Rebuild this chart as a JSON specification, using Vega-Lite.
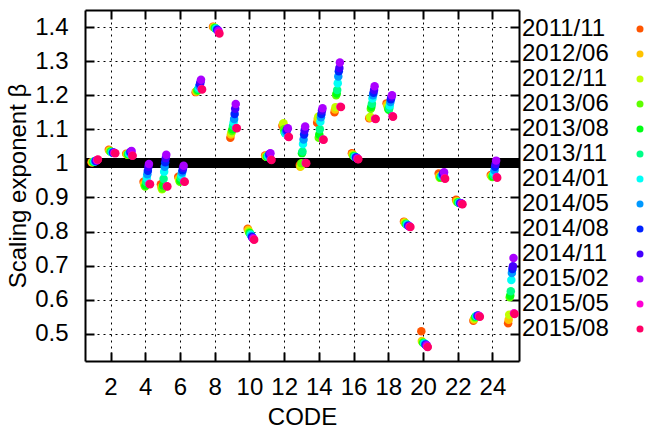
{
  "$schema": "https://vega.github.io/schema/vega-lite/v6.json",
  "width": 434,
  "height": 351,
  "autosize": "none",
  "padding": {"left": 85, "top": 10, "right": 127, "bottom": 73},
  "config": {
    "view": {"stroke": null},
    "font": "Liberation Sans",
    "axis": {
      "labelFontSize": 24, "titleFontSize": 24, "titleFontWeight": "normal",
      "labelColor": "black", "titleColor": "black",
      "domainColor": "black", "domainWidth": 2,
      "tickColor": "black", "tickWidth": 2, "tickSize": -9,
      "gridColor": "black", "gridDash": [2, 4], "gridOpacity": 1, "gridWidth": 1
    },
    "legend": {
      "labelFontSize": 24, "labelColor": "black", "labelFont": "Liberation Sans"
    }
  },
  "datasets": {
    "beta": [
      {"CODE":1,"date":"2011/11","beta":1.003},{"CODE":1,"date":"2012/06","beta":1.003},{"CODE":1,"date":"2012/11","beta":1.004},{"CODE":1,"date":"2013/06","beta":1.004},{"CODE":1,"date":"2013/08","beta":1.005},{"CODE":1,"date":"2013/11","beta":1.005},{"CODE":1,"date":"2014/01","beta":1.006},{"CODE":1,"date":"2014/05","beta":1.006},{"CODE":1,"date":"2014/08","beta":1.007},{"CODE":1,"date":"2014/11","beta":1.008},{"CODE":1,"date":"2015/02","beta":1.009},{"CODE":1,"date":"2015/05","beta":1.010},{"CODE":1,"date":"2015/08","beta":1.011},
      {"CODE":2,"date":"2011/11","beta":1.040},{"CODE":2,"date":"2012/06","beta":1.038},{"CODE":2,"date":"2012/11","beta":1.036},{"CODE":2,"date":"2013/06","beta":1.035},{"CODE":2,"date":"2013/08","beta":1.034},{"CODE":2,"date":"2013/11","beta":1.033},{"CODE":2,"date":"2014/01","beta":1.032},{"CODE":2,"date":"2014/05","beta":1.032},{"CODE":2,"date":"2014/08","beta":1.031},{"CODE":2,"date":"2014/11","beta":1.031},{"CODE":2,"date":"2015/02","beta":1.031},{"CODE":2,"date":"2015/05","beta":1.030},{"CODE":2,"date":"2015/08","beta":1.030},
      {"CODE":3,"date":"2011/11","beta":1.028},{"CODE":3,"date":"2012/06","beta":1.027},{"CODE":3,"date":"2012/11","beta":1.026},{"CODE":3,"date":"2013/06","beta":1.026},{"CODE":3,"date":"2013/08","beta":1.027},{"CODE":3,"date":"2013/11","beta":1.028},{"CODE":3,"date":"2014/01","beta":1.029},{"CODE":3,"date":"2014/05","beta":1.031},{"CODE":3,"date":"2014/08","beta":1.033},{"CODE":3,"date":"2014/11","beta":1.035},{"CODE":3,"date":"2015/02","beta":1.036},{"CODE":3,"date":"2015/05","beta":1.023},{"CODE":3,"date":"2015/08","beta":1.022},
      {"CODE":4,"date":"2011/11","beta":0.946},{"CODE":4,"date":"2012/06","beta":0.940},{"CODE":4,"date":"2012/11","beta":0.935},{"CODE":4,"date":"2013/06","beta":0.932},{"CODE":4,"date":"2013/08","beta":0.936},{"CODE":4,"date":"2013/11","beta":0.945},{"CODE":4,"date":"2014/01","beta":0.957},{"CODE":4,"date":"2014/05","beta":0.968},{"CODE":4,"date":"2014/08","beta":0.978},{"CODE":4,"date":"2014/11","beta":0.990},{"CODE":4,"date":"2015/02","beta":0.998},{"CODE":4,"date":"2015/05","beta":0.940},{"CODE":4,"date":"2015/08","beta":0.939},
      {"CODE":5,"date":"2011/11","beta":0.939},{"CODE":5,"date":"2012/06","beta":0.930},{"CODE":5,"date":"2012/11","beta":0.924},{"CODE":5,"date":"2013/06","beta":0.926},{"CODE":5,"date":"2013/08","beta":0.935},{"CODE":5,"date":"2013/11","beta":0.955},{"CODE":5,"date":"2014/01","beta":0.975},{"CODE":5,"date":"2014/05","beta":0.990},{"CODE":5,"date":"2014/08","beta":1.003},{"CODE":5,"date":"2014/11","beta":1.015},{"CODE":5,"date":"2015/02","beta":1.025},{"CODE":5,"date":"2015/05","beta":0.933},{"CODE":5,"date":"2015/08","beta":0.932},
      {"CODE":6,"date":"2011/11","beta":0.961},{"CODE":6,"date":"2012/06","beta":0.955},{"CODE":6,"date":"2012/11","beta":0.950},{"CODE":6,"date":"2013/06","beta":0.946},{"CODE":6,"date":"2013/08","beta":0.950},{"CODE":6,"date":"2013/11","beta":0.958},{"CODE":6,"date":"2014/01","beta":0.966},{"CODE":6,"date":"2014/05","beta":0.973},{"CODE":6,"date":"2014/08","beta":0.980},{"CODE":6,"date":"2014/11","beta":0.987},{"CODE":6,"date":"2015/02","beta":0.993},{"CODE":6,"date":"2015/05","beta":0.947},{"CODE":6,"date":"2015/08","beta":0.946},
      {"CODE":7,"date":"2011/11","beta":1.209},{"CODE":7,"date":"2012/06","beta":1.211},{"CODE":7,"date":"2012/11","beta":1.212},{"CODE":7,"date":"2013/06","beta":1.213},{"CODE":7,"date":"2013/08","beta":1.215},{"CODE":7,"date":"2013/11","beta":1.218},{"CODE":7,"date":"2014/01","beta":1.222},{"CODE":7,"date":"2014/05","beta":1.227},{"CODE":7,"date":"2014/08","beta":1.232},{"CODE":7,"date":"2014/11","beta":1.238},{"CODE":7,"date":"2015/02","beta":1.245},{"CODE":7,"date":"2015/05","beta":1.218},{"CODE":7,"date":"2015/08","beta":1.217},
      {"CODE":8,"date":"2011/11","beta":1.401},{"CODE":8,"date":"2012/06","beta":1.400},{"CODE":8,"date":"2012/11","beta":1.399},{"CODE":8,"date":"2013/06","beta":1.398},{"CODE":8,"date":"2013/08","beta":1.397},{"CODE":8,"date":"2013/11","beta":1.396},{"CODE":8,"date":"2014/01","beta":1.395},{"CODE":8,"date":"2014/05","beta":1.393},{"CODE":8,"date":"2014/08","beta":1.392},{"CODE":8,"date":"2014/11","beta":1.390},{"CODE":8,"date":"2015/02","beta":1.389},{"CODE":8,"date":"2015/05","beta":1.383},{"CODE":8,"date":"2015/08","beta":1.381},
      {"CODE":9,"date":"2011/11","beta":1.075},{"CODE":9,"date":"2012/06","beta":1.085},{"CODE":9,"date":"2012/11","beta":1.090},{"CODE":9,"date":"2013/06","beta":1.095},{"CODE":9,"date":"2013/08","beta":1.100},{"CODE":9,"date":"2013/11","beta":1.110},{"CODE":9,"date":"2014/01","beta":1.120},{"CODE":9,"date":"2014/05","beta":1.130},{"CODE":9,"date":"2014/08","beta":1.145},{"CODE":9,"date":"2014/11","beta":1.160},{"CODE":9,"date":"2015/02","beta":1.174},{"CODE":9,"date":"2015/05","beta":1.104},{"CODE":9,"date":"2015/08","beta":1.103},
      {"CODE":10,"date":"2011/11","beta":0.808},{"CODE":10,"date":"2012/06","beta":0.805},{"CODE":10,"date":"2012/11","beta":0.800},{"CODE":10,"date":"2013/06","beta":0.797},{"CODE":10,"date":"2013/08","beta":0.795},{"CODE":10,"date":"2013/11","beta":0.793},{"CODE":10,"date":"2014/01","beta":0.790},{"CODE":10,"date":"2014/05","beta":0.787},{"CODE":10,"date":"2014/08","beta":0.784},{"CODE":10,"date":"2014/11","beta":0.782},{"CODE":10,"date":"2015/02","beta":0.780},{"CODE":10,"date":"2015/05","beta":0.777},{"CODE":10,"date":"2015/08","beta":0.776},
      {"CODE":11,"date":"2011/11","beta":1.023},{"CODE":11,"date":"2012/06","beta":1.021},{"CODE":11,"date":"2012/11","beta":1.020},{"CODE":11,"date":"2013/06","beta":1.019},{"CODE":11,"date":"2013/08","beta":1.019},{"CODE":11,"date":"2013/11","beta":1.020},{"CODE":11,"date":"2014/01","beta":1.022},{"CODE":11,"date":"2014/05","beta":1.024},{"CODE":11,"date":"2014/08","beta":1.026},{"CODE":11,"date":"2014/11","beta":1.028},{"CODE":11,"date":"2015/02","beta":1.030},{"CODE":11,"date":"2015/05","beta":1.011},{"CODE":11,"date":"2015/08","beta":1.010},
      {"CODE":12,"date":"2011/11","beta":1.110},{"CODE":12,"date":"2012/06","beta":1.115},{"CODE":12,"date":"2012/11","beta":1.118},{"CODE":12,"date":"2013/06","beta":1.100},{"CODE":12,"date":"2013/08","beta":1.092},{"CODE":12,"date":"2013/11","beta":1.088},{"CODE":12,"date":"2014/01","beta":1.088},{"CODE":12,"date":"2014/05","beta":1.092},{"CODE":12,"date":"2014/08","beta":1.097},{"CODE":12,"date":"2014/11","beta":1.100},{"CODE":12,"date":"2015/02","beta":1.103},{"CODE":12,"date":"2015/05","beta":1.078},{"CODE":12,"date":"2015/08","beta":1.077},
      {"CODE":13,"date":"2011/11","beta":0.995},{"CODE":13,"date":"2012/06","beta":0.990},{"CODE":13,"date":"2012/11","beta":0.992},{"CODE":13,"date":"2013/06","beta":1.000},{"CODE":13,"date":"2013/08","beta":1.030},{"CODE":13,"date":"2013/11","beta":1.035},{"CODE":13,"date":"2014/01","beta":1.057},{"CODE":13,"date":"2014/05","beta":1.070},{"CODE":13,"date":"2014/08","beta":1.085},{"CODE":13,"date":"2014/11","beta":1.097},{"CODE":13,"date":"2015/02","beta":1.108},{"CODE":13,"date":"2015/05","beta":1.001},{"CODE":13,"date":"2015/08","beta":1.000},
      {"CODE":14,"date":"2011/11","beta":1.119},{"CODE":14,"date":"2012/06","beta":1.130},{"CODE":14,"date":"2012/11","beta":1.137},{"CODE":14,"date":"2013/06","beta":1.075},{"CODE":14,"date":"2013/08","beta":1.085},{"CODE":14,"date":"2013/11","beta":1.100},{"CODE":14,"date":"2014/01","beta":1.122},{"CODE":14,"date":"2014/05","beta":1.135},{"CODE":14,"date":"2014/08","beta":1.145},{"CODE":14,"date":"2014/11","beta":1.155},{"CODE":14,"date":"2015/02","beta":1.162},{"CODE":14,"date":"2015/05","beta":1.070},{"CODE":14,"date":"2015/08","beta":1.069},
      {"CODE":15,"date":"2011/11","beta":1.150},{"CODE":15,"date":"2012/06","beta":1.158},{"CODE":15,"date":"2012/11","beta":1.165},{"CODE":15,"date":"2013/06","beta":1.200},{"CODE":15,"date":"2013/08","beta":1.205},{"CODE":15,"date":"2013/11","beta":1.215},{"CODE":15,"date":"2014/01","beta":1.235},{"CODE":15,"date":"2014/05","beta":1.255},{"CODE":15,"date":"2014/08","beta":1.270},{"CODE":15,"date":"2014/11","beta":1.280},{"CODE":15,"date":"2015/02","beta":1.296},{"CODE":15,"date":"2015/05","beta":1.166},{"CODE":15,"date":"2015/08","beta":1.165},
      {"CODE":16,"date":"2011/11","beta":1.030},{"CODE":16,"date":"2012/06","beta":1.027},{"CODE":16,"date":"2012/11","beta":1.024},{"CODE":16,"date":"2013/06","beta":1.022},{"CODE":16,"date":"2013/08","beta":1.021},{"CODE":16,"date":"2013/11","beta":1.020},{"CODE":16,"date":"2014/01","beta":1.019},{"CODE":16,"date":"2014/05","beta":1.018},{"CODE":16,"date":"2014/08","beta":1.017},{"CODE":16,"date":"2014/11","beta":1.016},{"CODE":16,"date":"2015/02","beta":1.015},{"CODE":16,"date":"2015/05","beta":1.013},{"CODE":16,"date":"2015/08","beta":1.012},
      {"CODE":17,"date":"2011/11","beta":1.132},{"CODE":17,"date":"2012/06","beta":1.134},{"CODE":17,"date":"2012/11","beta":1.137},{"CODE":17,"date":"2013/06","beta":1.160},{"CODE":17,"date":"2013/08","beta":1.166},{"CODE":17,"date":"2013/11","beta":1.175},{"CODE":17,"date":"2014/01","beta":1.190},{"CODE":17,"date":"2014/05","beta":1.200},{"CODE":17,"date":"2014/08","beta":1.207},{"CODE":17,"date":"2014/11","beta":1.215},{"CODE":17,"date":"2015/02","beta":1.226},{"CODE":17,"date":"2015/05","beta":1.131},{"CODE":17,"date":"2015/08","beta":1.130},
      {"CODE":18,"date":"2011/11","beta":1.176},{"CODE":18,"date":"2012/06","beta":1.172},{"CODE":18,"date":"2012/11","beta":1.166},{"CODE":18,"date":"2013/06","beta":1.160},{"CODE":18,"date":"2013/08","beta":1.157},{"CODE":18,"date":"2013/11","beta":1.162},{"CODE":18,"date":"2014/01","beta":1.170},{"CODE":18,"date":"2014/05","beta":1.180},{"CODE":18,"date":"2014/08","beta":1.188},{"CODE":18,"date":"2014/11","beta":1.195},{"CODE":18,"date":"2015/02","beta":1.200},{"CODE":18,"date":"2015/05","beta":1.138},{"CODE":18,"date":"2015/08","beta":1.137},
      {"CODE":19,"date":"2011/11","beta":0.829},{"CODE":19,"date":"2012/06","beta":0.827},{"CODE":19,"date":"2012/11","beta":0.825},{"CODE":19,"date":"2013/06","beta":0.823},{"CODE":19,"date":"2013/08","beta":0.822},{"CODE":19,"date":"2013/11","beta":0.821},{"CODE":19,"date":"2014/01","beta":0.820},{"CODE":19,"date":"2014/05","beta":0.818},{"CODE":19,"date":"2014/08","beta":0.817},{"CODE":19,"date":"2014/11","beta":0.816},{"CODE":19,"date":"2015/02","beta":0.815},{"CODE":19,"date":"2015/05","beta":0.814},{"CODE":19,"date":"2015/08","beta":0.813},
      {"CODE":20,"date":"2011/11","beta":0.507},{"CODE":20,"date":"2012/06","beta":0.479},{"CODE":20,"date":"2012/11","beta":0.476},{"CODE":20,"date":"2013/06","beta":0.474},{"CODE":20,"date":"2013/08","beta":0.473},{"CODE":20,"date":"2013/11","beta":0.472},{"CODE":20,"date":"2014/01","beta":0.471},{"CODE":20,"date":"2014/05","beta":0.470},{"CODE":20,"date":"2014/08","beta":0.468},{"CODE":20,"date":"2014/11","beta":0.467},{"CODE":20,"date":"2015/02","beta":0.466},{"CODE":20,"date":"2015/05","beta":0.462},{"CODE":20,"date":"2015/08","beta":0.461},
      {"CODE":21,"date":"2011/11","beta":0.970},{"CODE":21,"date":"2012/06","beta":0.962},{"CODE":21,"date":"2012/11","beta":0.958},{"CODE":21,"date":"2013/06","beta":0.958},{"CODE":21,"date":"2013/08","beta":0.960},{"CODE":21,"date":"2013/11","beta":0.962},{"CODE":21,"date":"2014/01","beta":0.964},{"CODE":21,"date":"2014/05","beta":0.966},{"CODE":21,"date":"2014/08","beta":0.968},{"CODE":21,"date":"2014/11","beta":0.971},{"CODE":21,"date":"2015/02","beta":0.974},{"CODE":21,"date":"2015/05","beta":0.956},{"CODE":21,"date":"2015/08","beta":0.955},
      {"CODE":22,"date":"2011/11","beta":0.893},{"CODE":22,"date":"2012/06","beta":0.889},{"CODE":22,"date":"2012/11","beta":0.887},{"CODE":22,"date":"2013/06","beta":0.886},{"CODE":22,"date":"2013/08","beta":0.885},{"CODE":22,"date":"2013/11","beta":0.885},{"CODE":22,"date":"2014/01","beta":0.884},{"CODE":22,"date":"2014/05","beta":0.884},{"CODE":22,"date":"2014/08","beta":0.883},{"CODE":22,"date":"2014/11","beta":0.883},{"CODE":22,"date":"2015/02","beta":0.882},{"CODE":22,"date":"2015/05","beta":0.881},{"CODE":22,"date":"2015/08","beta":0.880},
      {"CODE":23,"date":"2011/11","beta":0.538},{"CODE":23,"date":"2012/06","beta":0.542},{"CODE":23,"date":"2012/11","beta":0.545},{"CODE":23,"date":"2013/06","beta":0.548},{"CODE":23,"date":"2013/08","beta":0.550},{"CODE":23,"date":"2013/11","beta":0.551},{"CODE":23,"date":"2014/01","beta":0.552},{"CODE":23,"date":"2014/05","beta":0.553},{"CODE":23,"date":"2014/08","beta":0.553},{"CODE":23,"date":"2014/11","beta":0.553},{"CODE":23,"date":"2015/02","beta":0.553},{"CODE":23,"date":"2015/05","beta":0.551},{"CODE":23,"date":"2015/08","beta":0.550},
      {"CODE":24,"date":"2011/11","beta":0.966},{"CODE":24,"date":"2012/06","beta":0.963},{"CODE":24,"date":"2012/11","beta":0.961},{"CODE":24,"date":"2013/06","beta":0.960},{"CODE":24,"date":"2013/08","beta":0.962},{"CODE":24,"date":"2013/11","beta":0.966},{"CODE":24,"date":"2014/01","beta":0.972},{"CODE":24,"date":"2014/05","beta":0.980},{"CODE":24,"date":"2014/08","beta":0.990},{"CODE":24,"date":"2014/11","beta":0.998},{"CODE":24,"date":"2015/02","beta":1.008},{"CODE":24,"date":"2015/05","beta":0.960},{"CODE":24,"date":"2015/08","beta":0.958},
      {"CODE":25,"date":"2011/11","beta":0.531},{"CODE":25,"date":"2012/06","beta":0.541},{"CODE":25,"date":"2012/11","beta":0.556},{"CODE":25,"date":"2013/06","beta":0.607},{"CODE":25,"date":"2013/08","beta":0.612},{"CODE":25,"date":"2013/11","beta":0.625},{"CODE":25,"date":"2014/01","beta":0.658},{"CODE":25,"date":"2014/05","beta":0.678},{"CODE":25,"date":"2014/08","beta":0.690},{"CODE":25,"date":"2014/11","beta":0.698},{"CODE":25,"date":"2015/02","beta":0.722},{"CODE":25,"date":"2015/05","beta":0.560},{"CODE":25,"date":"2015/08","beta":0.558}
    ]
  },
  "data": {"name": "beta"},
  "resolve": {"axis": {"x": "independent", "y": "independent"}},
  "layer": [
    {
      "mark": {"type": "rule", "color": "black", "strokeWidth": 9},
      "encoding": {
        "y": {"datum": 1, "type": "quantitative", "scale": {"domain": [0.42, 1.45], "nice": false, "zero": false}, "axis": null}
      }
    },
    {
      "mark": {"type": "circle", "size": 72, "opacity": 1},
      "encoding": {
        "x": {
          "field": "CODE", "type": "ordinal",
          "scale": {"domain": [1,2,3,4,5,6,7,8,9,10,11,12,13,14,15,16,17,18,19,20,21,22,23,24,25], "paddingInner": 0, "paddingOuter": 0},
          "axis": {"orient": "bottom", "values": [2,4,6,8,10,12,14,16,18,20,22,24], "grid": true, "bandPosition": 0.5, "labelAngle": 0, "labelPadding": 23, "title": "CODE", "titlePadding": 6, "labelFlush": false}
        },
        "xOffset": {"field": "date", "type": "nominal", "scale": {"type": "point", "range": [6.2, 13.2]}},
        "y": {
          "field": "beta", "type": "quantitative",
          "scale": {"domain": [0.42, 1.45], "nice": false, "zero": false},
          "axis": {"orient": "left", "values": [0.5,0.6,0.7,0.8,0.9,1,1.1,1.2,1.3,1.4], "format": ".1~f", "grid": true, "labelPadding": 26, "title": "Scaling exponent β", "titlePadding": 4, "labelFlush": false}
        },
        "color": {
          "field": "date", "type": "nominal",
          "scale": {
            "domain": ["2011/11","2012/06","2012/11","2013/06","2013/08","2013/11","2014/01","2014/05","2014/08","2014/11","2015/02","2015/05","2015/08"],
            "range": ["#ff5500","#ffc300","#c3ff00","#5eff00","#00ff15","#00ff88","#00fff7","#0099ff","#0022ff","#4400ff","#aa00ff","#ff00d5","#ff0066"]
          },
          "legend": {
            "title": null, "orient": "none", "legendX": 431, "legendY": 7,
            "symbolType": "circle", "symbolSize": 49, "symbolStrokeWidth": 0, "symbolOpacity": 1,
            "symbolOffset": 112, "labelOffset": -130, "rowPadding": 1, "padding": 0, "labelLimit": 200
          }
        }
      }
    },
    {
      "mark": {"type": "point", "opacity": 0},
      "encoding": {
        "x": {
          "field": "CODE", "type": "ordinal",
          "scale": {"domain": [1,2,3,4,5,6,7,8,9,10,11,12,13,14,15,16,17,18,19,20,21,22,23,24,25], "paddingInner": 0, "paddingOuter": 0},
          "axis": {"orient": "top", "values": [2,4,6,8,10,12,14,16,18,20,22,24], "bandPosition": 0.5, "grid": false, "labels": false, "title": null}
        },
        "y": {
          "field": "beta", "type": "quantitative",
          "scale": {"domain": [0.42, 1.45], "nice": false, "zero": false},
          "axis": {"orient": "right", "values": [0.5,0.6,0.7,0.8,0.9,1,1.1,1.2,1.3,1.4], "grid": false, "labels": false, "title": null}
        }
      }
    }
  ]
}
